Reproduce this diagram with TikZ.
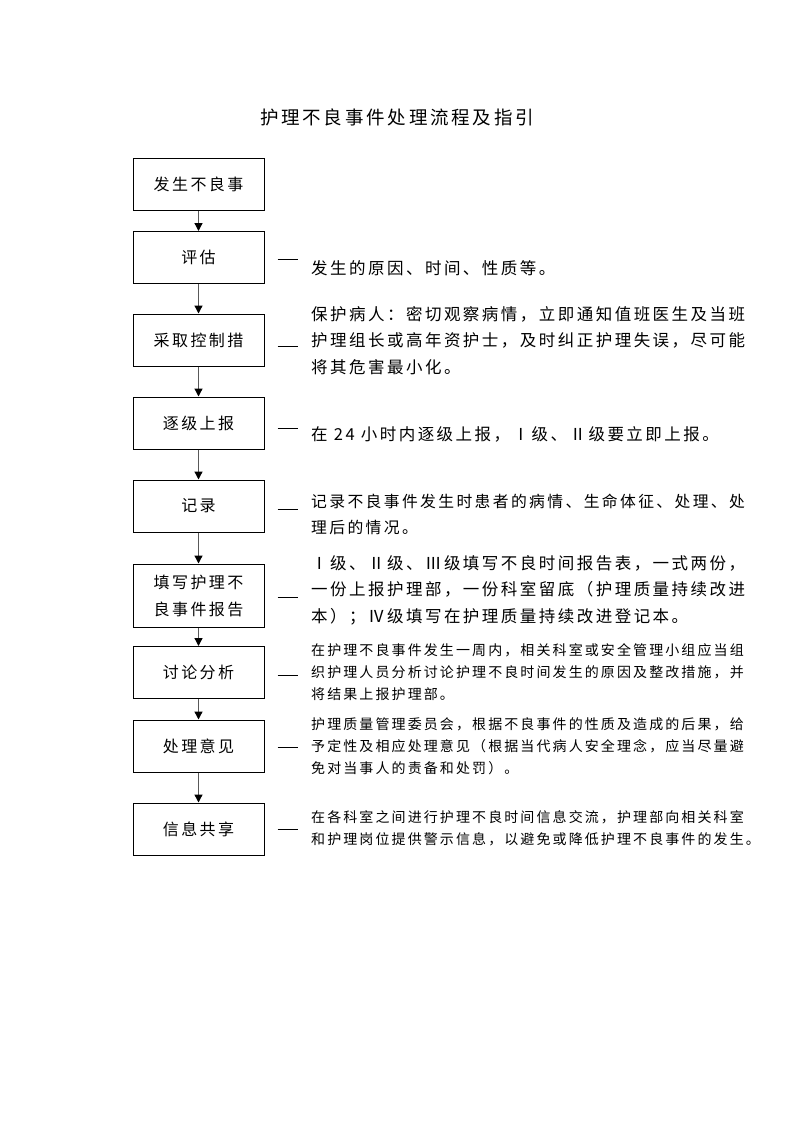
\documentclass[tikz,border=0pt]{standalone}
\usepackage{fontspec}
\usepackage{tikz}
\usetikzlibrary{arrows.meta}
\newfontfamily\cjk[LetterSpace=15]{Noto Sans CJK SC}

\begin{document}
\begin{tikzpicture}[x=1pt, y=-1pt,
    box/.style={draw, line width=1pt, minimum width=131pt, minimum height=52pt, inner sep=0pt, align=center, font=\cjk\fontsize{16}{27}\selectfont},
    flow/.style={draw=black!65, line width=1.3pt, -{Triangle[length=8pt, width=8pt, color=black]}},
    note/.style={anchor=west, inner sep=0pt, align=left, font=\cjk\fontsize{16.5}{26.5}\selectfont},
    smallnote/.style={note, font=\cjk\fontsize{14}{22}\selectfont},
    tick/.style={line width=1pt}]
    \useasboundingbox (0,0) rectangle (793,1122);

    \node[font=\cjk\fontsize{18.5}{20}\selectfont] (title) at (397,117) {护理不良事件处理流程及指引};

    % steps
    \node[box] (fasheng) at (198.5,184) {发生不良事};
    \node[box] (pinggu) at (198.5,257.5) {评估};
    \node[box] (caiqu) at (198.5,340) {采取控制措};
    \node[box] (shangbao) at (198.5,423) {逐级上报};
    \node[box] (jilu) at (198.5,506) {记录};
    \node[box, minimum height=63pt] (tianxie) at (198.5,595.5) {填写护理不\\良事件报告};
    \node[box] (taolun) at (198.5,672.5) {讨论分析};
    \node[box] (yijian) at (198.5,746) {处理意见};
    \node[box] (gongxiang) at (198.5,829) {信息共享};

    \draw[flow] (fasheng) -- (pinggu);
    \draw[flow] (pinggu) -- (caiqu);
    \draw[flow] (caiqu) -- (shangbao);
    \draw[flow] (shangbao) -- (jilu);
    \draw[flow] (jilu) -- (tianxie);
    \draw[flow] (tianxie) -- (taolun);
    \draw[flow] (taolun) -- (yijian);
    \draw[flow] (yijian) -- (gongxiang);

    % notes
    \node[note] (pinggu-t) at (311,268) {发生的原因、时间、性质等。};
    \node[note] (caiqu-t) at (311,340.5) {保护病人：密切观察病情，立即通知值班医生及当班\\护理组长或高年资护士，及时纠正护理失误，尽可能\\将其危害最小化。};
    \node[note] (shangbao-t) at (311,434) {在 24 小时内逐级上报，Ⅰ级、Ⅱ级要立即上报。};
    \node[note, font=\cjk\fontsize{15.8}{26}\selectfont] (jilu-t) at (311,514) {记录不良事件发生时患者的病情、生命体征、处理、处\\理后的情况。};
    \node[note] (tianxie-t) at (311,590) {Ⅰ级、Ⅱ级、Ⅲ级填写不良时间报告表，一式两份，\\一份上报护理部，一份科室留底（护理质量持续改进\\本）；Ⅳ级填写在护理质量持续改进登记本。};
    \node[smallnote] (taolun-t) at (311,672.5) {在护理不良事件发生一周内，相关科室或安全管理小组应当组\\织护理人员分析讨论护理不良时间发生的原因及整改措施，并\\将结果上报护理部。};
    \node[smallnote] (yijian-t) at (311,746) {护理质量管理委员会，根据不良事件的性质及造成的后果，给\\予定性及相应处理意见（根据当代病人安全理念，应当尽量避\\免对当事人的责备和处罚）。};
    \node[smallnote] (gongxiang-t) at (311,828.5) {在各科室之间进行护理不良时间信息交流，护理部向相关科室\\和护理岗位提供警示信息，以避免或降低护理不良事件的发生。};

    % short ticks between step and note
    \foreach \n/\dy in {pinggu/1.5, caiqu/6, shangbao/5, jilu/3, tianxie/1.5, taolun/2.5, yijian/1, gongxiang/0}
        \draw[tick] ([xshift=13pt, yshift=-\dy pt]\n.east) -- ([xshift=33pt, yshift=-\dy pt]\n.east);
\end{tikzpicture}
\end{document}
